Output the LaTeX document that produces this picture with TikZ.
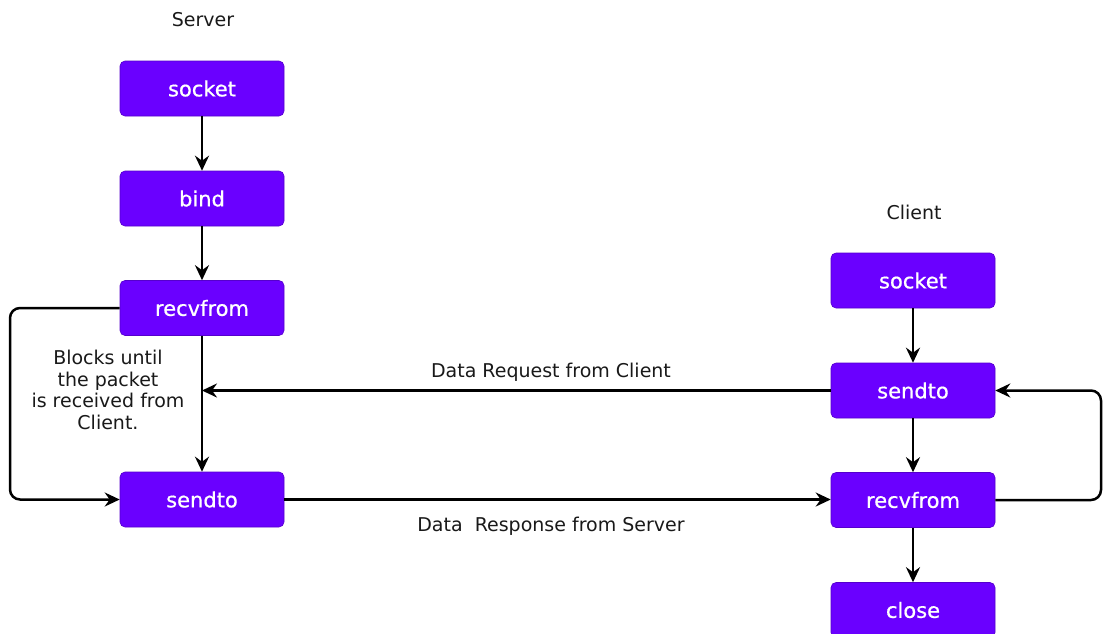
\documentclass[tikz,border=0pt]{standalone}
\usepackage{fontspec}
\setmainfont{DejaVu Sans}
\newfontfamily\boxfont{DejaVu Sans}[FakeBold=0.7]
\usetikzlibrary{arrows.meta}
\definecolor{boxpurple}{RGB}{106,0,255}
\tikzset{
  fnbox/.style={draw=boxpurple!80!black, line width=0.6pt, fill=boxpurple, rounded corners=5pt, minimum width=164pt, minimum height=55pt, text=white, font=\boxfont\fontsize{21}{24}\selectfont, inner sep=0pt},
  conn/.style={line width=2.5pt, -{Stealth[length=15pt,width=14pt,inset=5pt]}},
  lbl/.style={font=\fontsize{19}{23}\selectfont, text=black!90},
}
\begin{document}
\begin{tikzpicture}[x=1pt,y=-1pt]
\useasboundingbox (0,0) rectangle (1110,633);
% server
\node[lbl] (srvlbl) at (203,20) {Server};
\node[fnbox] (ssock) at (202,88.5) {socket};
\node[fnbox] (sbind) at (202,198.5) {bind};
\node[fnbox] (srecv) at (202,308) {recvfrom};
\node[fnbox] (ssend) at (202,499.5) {sendto};
% client
\node[lbl] (clilbl) at (914,212) {Client};
\node[fnbox] (csock) at (913,280.5) {socket};
\node[fnbox] (csend) at (913,390.5) {sendto};
\node[fnbox] (crecv) at (913,500) {recvfrom};
\node[fnbox] (cclose) at (913,610) {close};
% server vertical
\draw[conn] (ssock) -- (sbind);
\draw[conn] (sbind) -- (srecv);
\draw[conn] (srecv) -- (ssend);
\coordinate (reqend) at (202,390.5);
% client vertical
\draw[conn] (csock) -- (csend);
\draw[conn] (csend) -- (crecv);
\draw[conn] (crecv) -- (cclose);
% cross
\draw[conn] (csend.west) -- (reqend);
\draw[conn] (ssend.east) -- (ssend.east -| crecv.west);
% loops
\coordinate (lloop) at (10,0);
\coordinate (rloop) at (1101,0);
\draw[conn, rounded corners=10pt] (srecv.west) -- (srecv.west -| lloop) -- (ssend.west -| lloop) -- (ssend.west);
\draw[conn, rounded corners=10pt] (crecv.east) -- (crecv.east -| rloop) -- (csend.east -| rloop) -- (csend.east);
% labels
\node[lbl] (reqlbl) at (551,372) {Data Request from Client};
\node[lbl] (reslbl) at (551,526) {Data\ \ Response from Server};
\node[lbl, align=center, font=\fontsize{19}{21.7}\selectfont] (block) at (108,390) {Blocks until\\the packet\\is received from\\Client.};
\end{tikzpicture}
\end{document}
